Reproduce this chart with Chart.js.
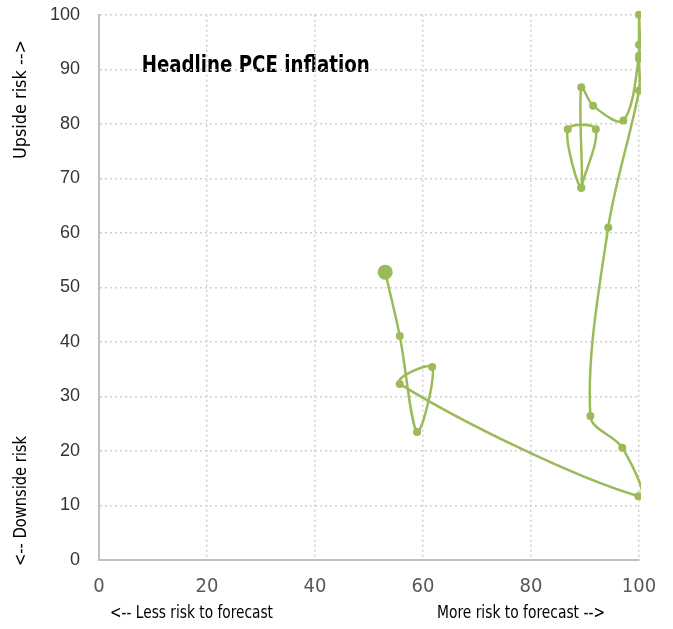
<!DOCTYPE html>
<html>
<head>
<meta charset="utf-8">
<script src="https://cdn.jsdelivr.net/npm/chart.js@4"></script>
<style>
  body { margin: 0; background: #fff; }
  #wrap { width: 673px; height: 629px; }
</style>
</head>
<body>
<div id="wrap"><canvas id="myChart"></canvas></div>
<script>
// risk to forecast (x) and upside risk (y), in time order, first point is the big dot
const riskToForecast = [53, 55.7, 58.9, 61.7, 55.7, 99.9, 96.9, 91, 94.3, 100, 100, 100, 100, 100, 97.1, 91.5, 89.3, 89.3, 86.8, 92, 89.3];
const upsideRisk = [52.8, 41.1, 23.5, 35.4, 32.3, 11.7, 20.6, 26.4, 61.0, 86.1, 91.9, 94.5, 100, 92.5, 80.6, 83.3, 86.7, 68.3, 79.0, 79.0, 68.3];
const xTicks = [0, 20, 40, 60, 80, 100];
const yTicks = [0, 10, 20, 30, 40, 50, 60, 70, 80, 90, 100];
const chartTitle = "Headline PCE inflation";
const xTitles = ["<-- Less risk to forecast", "More risk to forecast -->"];
const yTitles = ["<-- Downside risk", "Upside risk -->"];

const narrow = '"Liberation Sans Narrow", "Arial Narrow", "DejaVu Sans Condensed", sans-serif';

// draw text squeezed/stretched to a given width, starting at x
function fitText(ctx, text, x, y, width) {
  const w = ctx.measureText(text).width;
  ctx.save();
  ctx.translate(x, y);
  ctx.scale(width / w, 1);
  ctx.textAlign = "left";
  ctx.fillText(text, 0, 0);
  ctx.restore();
}

const labelsPlugin = {
  id: "labels",
  beforeDraw(chart) {
    const { ctx, scales } = chart;
    ctx.save();
    ctx.fillStyle = "#000";
    // title inside plot area
    ctx.font = "bold 23px " + narrow;
    ctx.textBaseline = "alphabetic";
    fitText(ctx, chartTitle, scales.x.getPixelForValue(7.9), scales.y.getPixelForValue(89.5), 228);
    // x axis titles
    ctx.font = "17px " + narrow;
    ctx.textBaseline = "middle";
    fitText(ctx, xTitles[0], 110, 614, 163);
    fitText(ctx, xTitles[1], 437, 614, 168);
    // y axis titles (rotated)
    ctx.translate(22, 0);
    ctx.rotate(-Math.PI / 2);
    fitText(ctx, yTitles[0], -566, 0, 130);
    fitText(ctx, yTitles[1], -159, 0, 119);
    ctx.restore();
  }
};

const ctx = document.getElementById("myChart");
new Chart(ctx, {
  type: "scatter",
  data: {
    datasets: [
      {
        label: chartTitle,
        data: riskToForecast.map((x, i) => ({ x: x, y: upsideRisk[i] })),
        showLine: true,
        borderColor: "#9BBB59",
        backgroundColor: "#9BBB59",
        borderWidth: 2.5,
        tension: 0.33,
        pointRadius: (c) => (c.dataIndex === 0 ? 7.5 : 4),
        pointBorderWidth: 0,
        clip: { left: 10, top: 6, right: 2, bottom: 6 },
      },
    ],
  },
  options: {
    responsive: true,
    maintainAspectRatio: false,
    animation: false,
    layout: { padding: { top: 0, right: 34, left: 0, bottom: 0 } },
    elements: { line: { capBezierPoints: false } },
    plugins: {
      legend: { display: false },
      tooltip: { enabled: false },
    },
    scales: {
      x: {
        type: "linear",
        min: 0,
        max: 100,
        afterBuildTicks: (s) => { s.ticks = xTicks.map((v) => ({ value: v })); },
        afterFit: (s) => { s.height = 69; },
        grid: { color: "#D0D0D0", lineWidth: 1.5, drawTicks: false },
        border: { color: "#BFBFBF", width: 2, dash: [2, 3] },
        ticks: { padding: 15, color: "#595959", font: { family: narrow, size: 20 } },
      },
      y: {
        type: "linear",
        min: 0,
        max: 100,
        afterBuildTicks: (s) => { s.ticks = yTicks.map((v) => ({ value: v })); },
        afterFit: (s) => { s.width = 99; },
        grid: { color: "#D0D0D0", lineWidth: 1.5, drawTicks: true, tickLength: 15, tickColor: "rgba(0,0,0,0)" },
        border: { color: "#BFBFBF", width: 2, dash: [2, 3] },
        ticks: { padding: 4, color: "#333333", font: { family: "Liberation Sans, Arial, sans-serif", size: 18 } },
      },
    },
  },
  plugins: [labelsPlugin],
});
</script>
</body>
</html>
